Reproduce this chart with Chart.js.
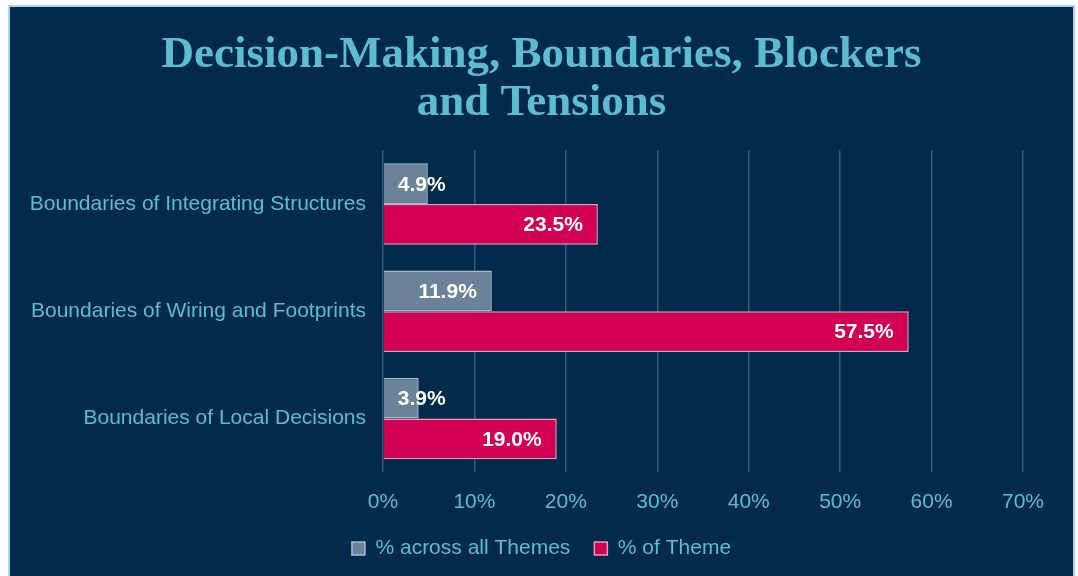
<!DOCTYPE html>
<html>
<head>
<meta charset="utf-8">
<script src="https://cdn.jsdelivr.net/npm/chart.js@4/dist/chart.umd.min.js"></script>
<style>
  html, body { margin: 0; padding: 0; background: #fff; width: 1078px; height: 576px; overflow: hidden; }
  #panel {
    position: absolute; left: 8px; top: 5px; width: 1063px; height: 580px;
    background: #022a4b; border: 2px solid #a8d6ee; border-bottom: none;
  }
  #wrap { position: absolute; left: 0; top: 0; width: 1063px; height: 571px; }
</style>
</head>
<body>
<div id="panel"><div id="wrap"><canvas id="chart"></canvas></div></div>
<script>
// Data
const categories = [
    'Boundaries of Integrating Structures',
    'Boundaries of Wiring and Footprints',
    'Boundaries of Local Decisions'
];
const acrossAllThemes = [4.9, 11.9, 3.9];
const ofTheme = [23.5, 57.5, 19.0];
const seriesNames = ['% across all Themes', '% of Theme'];
const titleLines = ['Decision-Making, Boundaries, Blockers', 'and Tensions'];

const cyan = '#5dbccd';
const sans = '"Liberation Sans", Arial, sans-serif';

// bar value labels: inside end, pushed right when bar is too short
const valueLabels = {
    id: 'valueLabels',
    afterDatasetsDraw(chart) {
        const ctx = chart.ctx;
        ctx.save();
        ctx.font = 'bold 21px ' + sans;
        ctx.fillStyle = '#ffffff';
        ctx.textBaseline = 'middle';
        ctx.textAlign = 'left';
        chart.data.datasets.forEach((ds, di) => {
            const meta = chart.getDatasetMeta(di);
            meta.data.forEach((el, i) => {
                const txt = ds.data[i].toFixed(1) + '%';
                const w = ctx.measureText(txt).width;
                const x = Math.max(el.x - 15 - w, el.base + 14);
                ctx.fillText(txt, x, el.y + 1);
            });
        });
        ctx.restore();
    }
};

const ctx = document.getElementById('chart').getContext('2d');
new Chart(ctx, {
    type: 'bar',
    data: {
        labels: categories,
        datasets: [
            {
                label: seriesNames[0],
                data: acrossAllThemes,
                backgroundColor: '#6a8398',
                borderColor: '#aabdcc',
                borderWidth: 1.5
            },
            {
                label: seriesNames[1],
                data: ofTheme,
                backgroundColor: '#d10052',
                borderColor: '#e99abb',
                borderWidth: 1.5
            }
        ]
    },
    options: {
        indexAxis: 'y',
        responsive: true,
        maintainAspectRatio: false,
        animation: false,
        categoryPercentage: 0.76,
        barPercentage: 1.0,
        layout: { padding: { left: 0, right: 0, top: 0, bottom: 9 } },
        scales: {
            x: {
                min: 0,
                max: 70,
                ticks: {
                    stepSize: 10,
                    color: cyan,
                    padding: 18,
                    font: { family: sans, size: 21 },
                    callback: v => v + '%'
                },
                grid: { color: 'rgba(110,150,180,0.45)', lineWidth: 1.5, drawTicks: false },
                border: { display: false },
                afterFit(scale) { scale.height = 42; }
            },
            y: {
                ticks: {
                    color: cyan,
                    padding: 9,
                    font: { family: sans, size: 21 }
                },
                grid: { display: false },
                border: { display: false },
                afterFit(scale) { scale.width = 373; }
            },
            // empty right margin so the title stays centred on the panel
            yRight: {
                type: 'category',
                position: 'right',
                ticks: { display: false },
                grid: { display: false },
                border: { display: false },
                afterFit(scale) { scale.width = 50; }
            }
        },
        plugins: {
            title: {
                display: true,
                text: titleLines,
                color: cyan,
                font: { family: '"Liberation Serif", "DejaVu Serif", serif', size: 45, weight: 'bold', lineHeight: 1.05 },
                padding: { top: 25, bottom: 24 }
            },
            legend: {
                position: 'bottom',
                labels: {
                    color: cyan,
                    boxWidth: 13,
                    boxHeight: 13,
                    padding: 24,
                    font: { family: sans, size: 21 }
                }
            },
            tooltip: { enabled: false }
        }
    },
    plugins: [valueLabels]
});
</script>
</body>
</html>
